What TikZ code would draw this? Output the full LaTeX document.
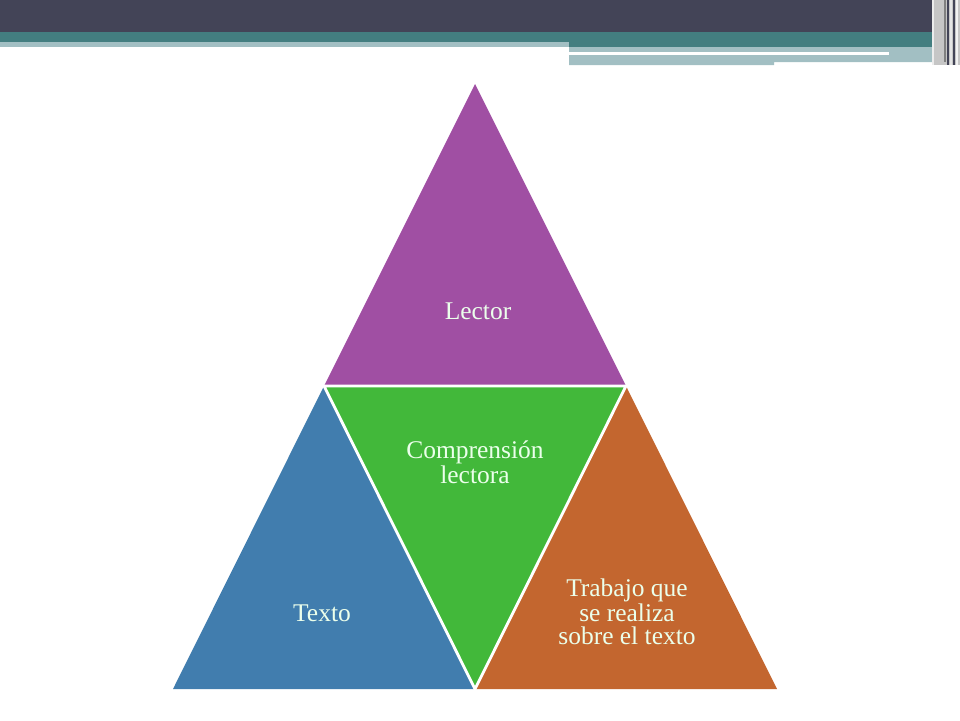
\documentclass[tikz,border=0pt]{standalone}
\usepackage{fontspec}
\setmainfont{Liberation Serif}
\definecolor{barDark}{HTML}{434457}
\definecolor{barTeal}{HTML}{437E80}
\definecolor{barLight}{HTML}{A2BFC3}
\definecolor{readerPurple}{HTML}{A04FA3}
\definecolor{textBlue}{HTML}{417DAE}
\definecolor{coreGreen}{HTML}{42B83A}
\definecolor{workOrange}{HTML}{C3662F}
\begin{document}
\begin{tikzpicture}[
x=0.02cm,y=-0.02cm,
part/.style={line join=miter},
gap/.style={draw=white,line width=1.6pt,line join=miter},
label/.style={text=white!92!green,font=\fontsize{14.5}{13}\selectfont,align=center},
stripe/.style={line width=0.8pt},
]
\useasboundingbox (0,0) rectangle (960,720);
% header bars
\fill[barDark] (0,0) rectangle (960,32);
\fill[barTeal] (0,32) rectangle (960,47);
\fill[barLight] (0,42) rectangle (569,47);
\fill[barLight]
    (569,47) rectangle (774,65)
    (774,47) rectangle (940,62);
\fill[white] (569,52) rectangle (889,54.5);
\fill[gray!45] (932,0) rectangle (960,65);
\draw[stripe,white!85!gray] (933,0) -- (933,65);
\draw[stripe,gray] (945,0) -- (945,62);
\draw[stripe,barDark] (948,0) -- (948,65);
\draw[stripe,white!80!gray] (951,0) -- (951,65);
\draw[stripe,barDark] (954,0) -- (954,65);
\draw[stripe,white!90!gray] (957,0) -- (957,65);
% triangle
\path[part,fill=readerPurple] (475,84) -- (626,386) -- (324,386) -- cycle;
\path[part,fill=textBlue] (324,386) -- (475,689) -- (173,689) -- cycle;
\path[part,fill=workOrange] (626,386) -- (777,689) -- (475,689) -- cycle;
\path[part,fill=coreGreen] (324,386) -- (626,386) -- (475,689) -- cycle;
\path[gap] (324,386) -- (626,386) -- (475,689) -- cycle;
\node[label] (lector) at (478,311) {Lector};
\node[label] (comprension) at (475,462) {Comprensión\\lectora};
\node[label] (texto) at (322,613) {Texto};
\node[label] (trabajo) at (627,612) {Trabajo que\\se realiza\\sobre el texto};
\end{tikzpicture}
\end{document}
